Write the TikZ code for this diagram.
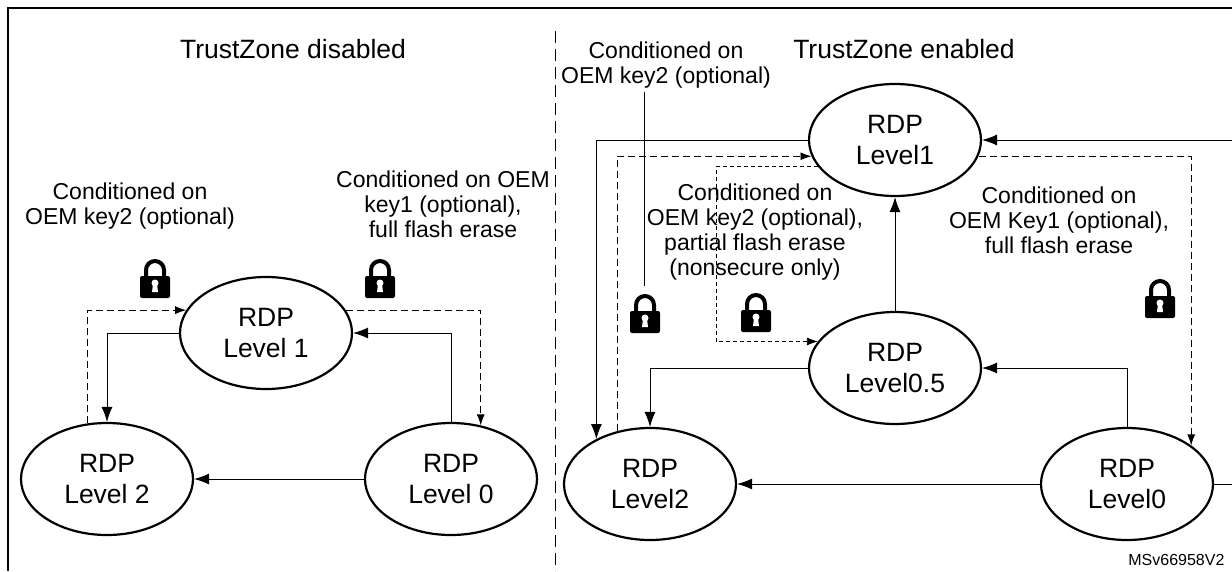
\documentclass[tikz,border=0pt]{standalone}
\usepackage{fontspec}
\setmainfont{Liberation Sans}
\usetikzlibrary{shapes.geometric, arrows.meta, positioning}

\begin{document}
\begin{tikzpicture}[x=1pt,y=-1pt,
    rdp/.style={draw, ellipse, line width=2.2pt, minimum width=172pt, minimum height=112pt, inner sep=0pt, align=center, font=\fontsize{26.5}{31}\selectfont},
    note/.style={align=center, font=\fontsize{23}{25}\selectfont},
    head/.style={font=\fontsize{26.5}{30}\selectfont},
    link/.style={line width=0.9pt, -{Latex[length=15pt,width=11pt]}},
    dlink/.style={line width=0.9pt, dash pattern=on 7pt off 4pt, -{Latex[length=11pt,width=8pt]}},
    tlink/.style={line width=0.7pt, dash pattern=on 4pt off 3pt, -{Latex[length=11pt,width=8pt]}},
    padlock/.pic={
        \draw[line width=4pt] (-9,-2) -- (-9,-9) arc[start angle=180, end angle=360, radius=9] -- (9,-2);
        \fill[rounded corners=2pt] (-15,-3) rectangle (15,19);
        \fill[white] (0,4) circle (3.5);
        \fill[white] (-2,5) -- (2,5) -- (3,13) -- (-3,13) -- cycle;
    }]

\useasboundingbox (0,0) rectangle (1232,571);

% frame and divider
\draw[line width=1.5pt] (8,571) -- (8,8) -- (1232,8);
\draw[line width=0.8pt, dash pattern=on 12pt off 6pt] (555,31) -- (555,571);

% TrustZone disabled
\node[head] (hoff) at (293,49) {TrustZone disabled};

\node[rdp] (a1) at (266,333) {RDP\\Level 1};
\node[rdp] (a2) at (107,479) {RDP\\Level 2};
\node[rdp] (a0) at (451,479) {RDP\\Level 0};

\node[note] (na2) at (130,206) {Conditioned on\\OEM key2 (optional)};
\node[note] (na1) at (443,204) {Conditioned on OEM\\key1 (optional),\\full flash erase};

\pic at (155,279) {padlock};
\pic at (380,279) {padlock};

\draw[link] (a1.west) -| (a2.north);
\draw[dlink] (a2.109) |- (a1.164);
\draw[link] (a0.north) |- (a1.east);
\draw[dlink] (a1.16) -| (a0.61);
\draw[link] (a0.west) -- (a2.east);

% TrustZone enabled
\node[head] (hon) at (904,49) {TrustZone enabled};

\node[rdp] (b1) at (895,140) {RDP\\Level1};
\node[rdp] (b05) at (895,368) {RDP\\Level0.5};
\node[rdp] (b2) at (650,484) {RDP\\Level2};
\node[rdp] (b0) at (1127,484) {RDP\\Level0};

\node[note] (nb1) at (666,65) {Conditioned on\\OEM key2 (optional)};
\node[note] (nb2) at (755,232) {Conditioned on\\OEM key2 (optional),\\partial flash erase\\(nonsecure only)};
\node[note] (nb3) at (1059,220) {Conditioned on\\OEM Key1 (optional),\\full flash erase};
\coordinate (nb1end) at (644,286);

\pic at (645,314) {padlock};
\pic at (756,313) {padlock};
\pic at (1160,299) {padlock};

\draw[line width=0.7pt] (nb1.south -| nb1end) -- (nb1end);
\draw[link] (b1.west) -| (b2.140);
\draw[dlink] (b2.122) |- (b1.191);
\draw[tlink] (b1.199) -- ++(-102,0) |- (b05.161);
\draw[link] (b05.north) -- (b1.south);
\draw[link] (b05.west) -| (b2.north);
\draw[link] (b0.north) |- (b05.east);
\draw[link] (b0.east) -- ++(18,0) |- (b1.east);
\draw[dlink] (b1.-11) -| (b0.31);
\draw[link] (b0.west) -- (b2.east);

\node[font=\fontsize{16}{18}\selectfont, anchor=south east] (code) at (1228,569) {MSv66958V2};

\end{tikzpicture}
\end{document}
